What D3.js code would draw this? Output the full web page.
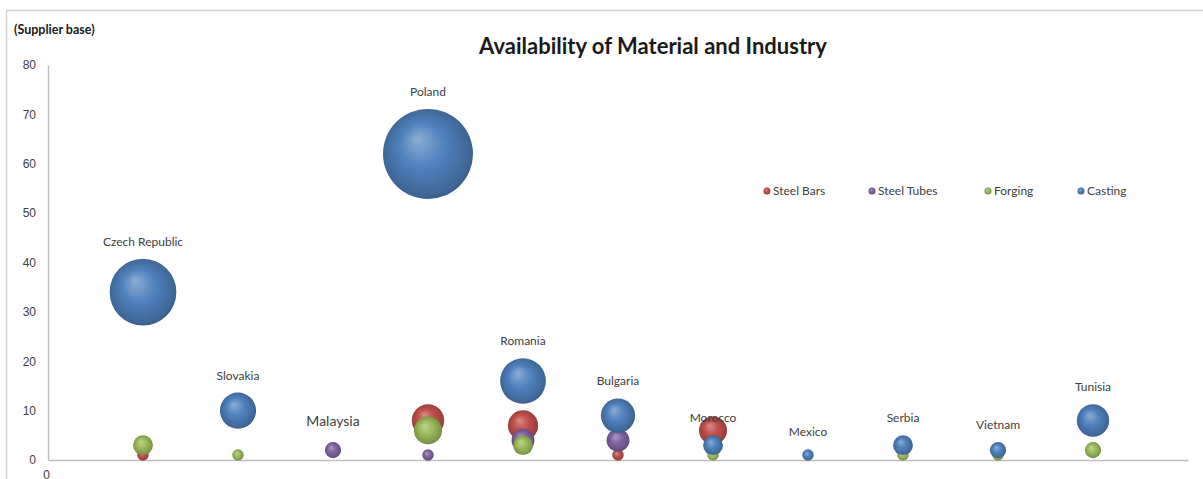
<!DOCTYPE html>
<html>
<head>
<meta charset="utf-8">
<script src="https://cdn.jsdelivr.net/npm/d3@7"></script>
<style>
  html, body { margin: 0; padding: 0; background: #fff; }
  svg { display: block; font-family: Lato, "Open Sans", "Liberation Sans", sans-serif; }
</style>
</head>
<body>
<svg id="chart" width="1203" height="479"></svg>
<script>
const categories = ["Czech Republic", "Slovakia", "Malaysia", "Poland", "Romania", "Bulgaria", "Morocco", "Mexico", "Serbia", "Vietnam", "Tunisia"];
const xValues = [1, 2, 3, 4, 5, 6, 7, 8, 9, 10, 11];
const steelBars  = [1, null, null, 8, 7, 1, 6, null, null, null, null];
const steelTubes = [null, null, 2, 1, 4, 4, null, null, null, null, null];
const forging    = [3, 1, null, 6, 3, null, 1, null, 1, 1, 2];
const casting    = [34, 10, null, 62, 16, 9, 3, 1, 3, 2, 8];
const seriesNames = ["Steel Bars", "Steel Tubes", "Forging", "Casting"];
const yTicks = [0, 10, 20, 30, 40, 50, 60, 70, 80];
const xTicks = [0];

const seriesData = [steelBars, steelTubes, forging, casting];
const colors = ["#c0504d", "#8064a2", "#9bbb59", "#4f81bd"];

const svg = d3.select("#chart");

// chart border
svg.append("rect").attr("x", 6.5).attr("y", 10.5).attr("width", 1205).attr("height", 480)
  .attr("fill", "#fff").attr("stroke", "#d0d0d0").attr("stroke-width", 1.5);

const x = d3.scaleLinear().domain([0, 12]).range([48, 1188]);
const y = d3.scaleLinear().domain([0, 80]).range([460, 65]);
const r = d3.scaleSqrt().domain([0, 62]).range([0, 45]);

// gradients
const defs = svg.append("defs");
colors.forEach((c, i) => {
  const g = defs.append("radialGradient").attr("id", "g" + i)
    .attr("cx", "50%").attr("cy", "50%").attr("r", "55%").attr("fx", "38%").attr("fy", "33%");
  const base = d3.color(c);
  g.append("stop").attr("offset", "0%").attr("stop-color", d3.interpolateRgb(c, "#ffffff")(0.35));
  g.append("stop").attr("offset", "45%").attr("stop-color", c);
  g.append("stop").attr("offset", "85%").attr("stop-color", base.darker(0.6));
  g.append("stop").attr("offset", "100%").attr("stop-color", base.darker(1.1));
});

// axes
const yAxis = d3.axisLeft(y).tickValues(yTicks).tickSize(0).tickPadding(12);
const gy = svg.append("g").attr("transform", "translate(48,0)").call(yAxis);
gy.select(".domain").attr("stroke", "#bfbfbf").attr("stroke-width", 1.5);
gy.selectAll("text").attr("fill", "#404040").style("font-size", "12px");

const xAxis = d3.axisBottom(x).tickValues(xTicks).tickSize(0).tickPadding(10);
const gx = svg.append("g").attr("transform", "translate(0,460)").call(xAxis);
gx.select(".domain").attr("stroke", "#bfbfbf").attr("stroke-width", 1.5);
gx.selectAll("text").attr("fill", "#404040").style("font-size", "12px").attr("dx", -2);

// bubbles
seriesData.forEach((vals, si) => {
  const pts = vals.map((v, i) => ({ v, x: xValues[i] })).filter(d => d.v != null);
  svg.append("g").selectAll("circle").data(pts).enter().append("circle")
    .attr("cx", d => x(d.x)).attr("cy", d => y(d.v)).attr("r", d => r(d.v))
    .attr("fill", "url(#g" + si + ")");
});

// country labels above casting bubble (or topmost bubble)
categories.forEach((name, i) => {
  let v = casting[i];
  if (v == null) {
    let best = null;
    seriesData.forEach(s => { if (s[i] != null && (best == null || y(s[i]) - r(s[i]) < y(best) - r(best))) best = s[i]; });
    v = best;
  }
  const big = casting[i] == null;
  svg.append("text").attr("x", x(xValues[i])).attr("y", y(v) - r(v) - (big ? 16 : 13))
    .attr("text-anchor", "middle").attr("fill", "#404040")
    .style("font-size", big ? "14px" : "12px").text(name);
});

// legend
const legendX = [767, 872, 988, 1081];
seriesNames.forEach((n, i) => {
  const g = svg.append("g").attr("transform", `translate(${legendX[i]},191)`);
  g.append("circle").attr("r", 3.5).attr("fill", "url(#g" + i + ")");
  g.append("text").attr("x", 6).attr("y", 4).attr("fill", "#404040").style("font-size", "12px").text(n);
});

// title & axis title
svg.append("text").attr("x", 653).attr("y", 54).attr("text-anchor", "middle")
  .attr("fill", "#1a1a1a").style("font-size", "22px").style("font-weight", "bold")
  .text("Availability of Material and Industry");
svg.append("text").attr("x", 14).attr("y", 34).attr("fill", "#1a1a1a")
  .style("font-size", "12.5px").style("font-weight", "bold").text("(Supplier base)");
</script>
</body>
</html>
